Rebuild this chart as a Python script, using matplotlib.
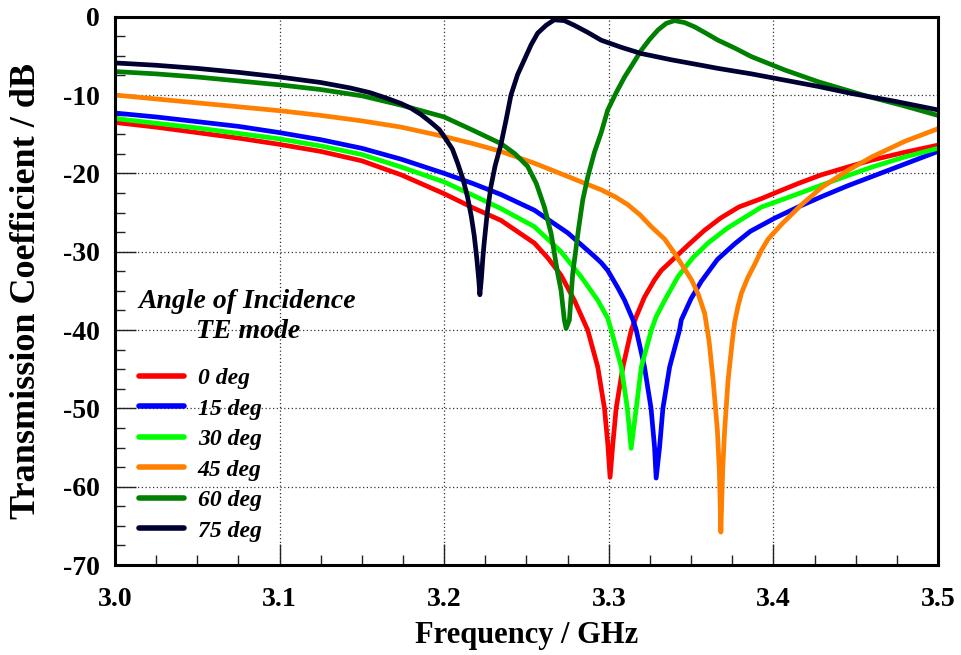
import matplotlib
matplotlib.use("Agg")
import matplotlib.pyplot as plt
from matplotlib.ticker import MultipleLocator, FormatStrFormatter

plt.rcParams['font.family'] = ['Liberation Serif', 'DejaVu Serif']
plt.rcParams['font.weight'] = 'bold'
plt.rcParams['axes.unicode_minus'] = False

# ---------------- data ----------------
f_0 = [3.000, 3.025, 3.050, 3.075, 3.100, 3.125, 3.150, 3.174, 3.200, 3.2175, 3.2345, 3.2548,
       3.263, 3.271, 3.2791, 3.2872, 3.2933, 3.2974, 3.2994, 3.3008, 3.3025, 3.3045, 3.3086,
       3.3137, 3.3167, 3.3217, 3.3278, 3.3319, 3.343, 3.348, 3.358, 3.368, 3.379, 3.393,
       3.401, 3.415, 3.429, 3.445, 3.460, 3.480, 3.500]
db_0 = [-13.5, -14.1, -14.8, -15.5, -16.3, -17.2, -18.4, -20.2, -22.6, -24.4, -26.0, -28.9,
        -30.8, -33.0, -36.2, -40.0, -44.7, -50.0, -54.5, -58.8, -54.5, -50.0, -44.7,
        -40.0, -38.3, -35.8, -33.6, -32.4, -30.2, -29.2, -27.3, -25.7, -24.3, -23.2,
        -22.5, -21.3, -20.2, -19.2, -18.3, -17.3, -16.4]

f_15 = [3.000, 3.025, 3.050, 3.075, 3.100, 3.125, 3.150, 3.174, 3.200, 3.2175, 3.2345, 3.2548,
        3.2751, 3.2913, 3.2954, 3.2994, 3.3055, 3.3096, 3.3147, 3.3167, 3.3217, 3.3257, 3.3278,
        3.3288, 3.3309, 3.3329, 3.337, 3.343, 3.3441, 3.350, 3.3562, 3.366, 3.3765, 3.386,
        3.401, 3.415, 3.429, 3.445, 3.460, 3.480, 3.500]
db_15 = [-12.3, -12.8, -13.4, -14.0, -14.8, -15.7, -16.8, -18.2, -20.0, -21.3, -22.7, -24.7,
         -27.6, -30.6, -31.4, -32.4, -34.6, -36.2, -38.7, -40.0, -44.7, -50.0, -54.9,
         -58.9, -54.9, -50.0, -44.7, -40.0, -38.7, -36.0, -33.8, -31.0, -29.0, -27.4,
         -25.7, -24.3, -23.0, -21.6, -20.4, -18.8, -17.2]

f_30 = [3.000, 3.025, 3.050, 3.075, 3.100, 3.125, 3.150, 3.174, 3.200, 3.2175, 3.2345, 3.2548,
        3.271, 3.2832, 3.2933, 3.2994, 3.3015, 3.3076, 3.3113, 3.3136, 3.3167, 3.3198, 3.3259,
        3.3288, 3.334, 3.342, 3.351, 3.3603, 3.372, 3.3928, 3.410, 3.4293, 3.445, 3.4598,
        3.480, 3.500]
db_30 = [-13.0, -13.6, -14.2, -14.9, -15.6, -16.5, -17.6, -19.2, -21.1, -22.8, -24.5, -26.8,
         -30.0, -33.2, -36.2, -38.5, -40.0, -44.7, -50.0, -55.1, -50.0, -44.7, -40.0,
         -38.3, -36.2, -33.2, -30.8, -28.9, -27.0, -24.3, -23.0, -21.5, -20.3, -19.2,
         -17.9, -16.8]

f_45 = [3.000, 3.025, 3.050, 3.075, 3.100, 3.125, 3.150, 3.174, 3.200, 3.2175, 3.2345, 3.2548,
        3.2751, 3.2954, 3.304, 3.3116, 3.319, 3.3258, 3.334, 3.340, 3.3503, 3.3545, 3.3583,
        3.361, 3.3634, 3.3660, 3.3672, 3.3681, 3.3692, 3.3704, 3.3725, 3.3750, 3.3765, 3.3785,
        3.3806, 3.3845, 3.3887, 3.3928, 3.3968, 3.405, 3.4171, 3.4293, 3.4455, 3.4598,
        3.480, 3.500]
db_45 = [-10.0, -10.5, -11.0, -11.5, -12.0, -12.6, -13.3, -14.1, -15.3, -16.2, -17.2, -18.7,
         -20.4, -22.1, -23.0, -24.0, -25.3, -26.8, -28.4, -30.2, -33.6, -35.5, -37.9,
         -41.5, -46.4, -52.8, -58.0, -65.8, -58.0, -52.8, -46.4, -41.5, -39.0, -37.0,
         -35.3, -33.3, -31.6, -29.8, -28.4, -26.5, -24.0, -21.8, -19.6, -17.9,
         -15.9, -14.3]

f_60 = [3.000, 3.025, 3.050, 3.075, 3.100, 3.125, 3.150, 3.174, 3.200, 3.2175, 3.2345, 3.243,
        3.2507, 3.256, 3.2609, 3.265, 3.269, 3.271, 3.273, 3.2741, 3.2761, 3.2781, 3.2817,
        3.2842, 3.2872, 3.2913, 3.2954, 3.2994, 3.3045, 3.3096, 3.3147, 3.3197, 3.3248,
        3.3299, 3.3349, 3.340, 3.3461, 3.3522, 3.359, 3.3664, 3.3765, 3.3867, 3.4069,
        3.4272, 3.4577, 3.478, 3.500]
db_60 = [-7.0, -7.3, -7.7, -8.2, -8.7, -9.3, -10.1, -11.3, -12.8, -14.5, -16.2, -17.5,
         -19.1, -21.3, -24.3, -27.7, -32.8, -34.9, -38.7, -39.8, -38.7, -32.8, -27.0,
         -23.4, -20.5, -17.3, -14.8, -11.9, -9.7, -7.7, -6.0, -4.3, -2.9,
         -1.7, -0.85, -0.5, -0.75, -1.3, -2.1, -3.0, -4.0, -5.1, -6.8,
         -8.3, -10.2, -11.3, -12.6]

f_75 = [3.000, 3.025, 3.050, 3.075, 3.100, 3.125, 3.143, 3.155, 3.165, 3.174, 3.180, 3.186,
        3.192, 3.197, 3.200, 3.205, 3.2082, 3.2115, 3.2142, 3.2165, 3.2183, 3.2198, 3.221,
        3.2217, 3.2226, 3.2235, 3.2243, 3.2262, 3.2284, 3.231, 3.2345, 3.2376, 3.2406,
        3.2446, 3.2487, 3.2528, 3.2568, 3.2619, 3.2669, 3.273, 3.2791, 3.2872, 3.2954,
        3.3075, 3.3197, 3.338, 3.3562, 3.3664, 3.3867, 3.4069, 3.4272, 3.4475, 3.4739, 3.500]
db_75 = [-5.9, -6.2, -6.6, -7.1, -7.7, -8.4, -9.1, -9.7, -10.4, -11.1, -11.7, -12.5,
         -13.5, -14.4, -15.3, -16.9, -18.7, -20.8, -23.0, -25.5, -28.0, -30.8, -33.5,
         -35.5, -33.5, -30.8, -28.9, -25.0, -21.7, -19.0, -16.3, -13.2, -10.0,
         -7.4, -5.5, -3.6, -2.1, -1.1, -0.4, -0.5, -1.1, -2.0, -3.0,
         -3.9, -4.7, -5.5, -6.2, -6.6, -7.3, -8.1, -8.9, -9.8, -10.8, -11.9]

labels = ['0 deg', '15 deg', '30 deg', '45 deg', '60 deg', '75 deg']
colors = ['#ff0000', '#0000ff', '#00ff00', '#ff8000', '#008000', '#000033']
series = [(f_0, db_0), (f_15, db_15), (f_30, db_30), (f_45, db_45), (f_60, db_60), (f_75, db_75)]

x_ticks = [3.0, 3.1, 3.2, 3.3, 3.4, 3.5]
y_ticks = [0, -10, -20, -30, -40, -50, -60, -70]

# ---------------- figure ----------------
fig = plt.figure(figsize=(9.62, 6.55), dpi=100)
ax = fig.add_axes([0.1195, 0.1374, 0.8555, 0.8371])

for (fx, fy), lab, col in zip(series, labels, colors):
    ax.plot(fx, fy, color=col, lw=3.4, label=lab, solid_capstyle='round', solid_joinstyle='round')

ax.set_xlim(3.0, 3.5)
ax.set_ylim(-70, 0)
ax.set_xticks(x_ticks)
ax.set_yticks(y_ticks)
ax.xaxis.set_major_formatter(FormatStrFormatter('%.1f'))
ax.xaxis.set_minor_locator(MultipleLocator(0.025))
ax.yaxis.set_minor_locator(MultipleLocator(2.5))

ax.tick_params(which='both', direction='in', top=False, right=False, colors='#222222',
               labelcolor='black', labelsize=20)
ax.tick_params(which='major', length=15, width=1.0)
ax.tick_params(which='minor', length=7.5, width=1.0)
ax.tick_params(axis='x', which='major', pad=16)
ax.tick_params(axis='y', which='major', pad=11)

ax.grid(True, which='major', color='#333333', linestyle=(0, (1, 2)), lw=0.9)
ax.set_axisbelow(True)

for sp in ax.spines.values():
    sp.set_linewidth(2.2)
    sp.set_color('black')

ax.set_xlabel('Frequency / GHz', fontsize=22, fontweight='bold', labelpad=6)
ax.set_ylabel('Transmission Coefficient / dB', fontsize=26, fontweight='bold', labelpad=14)

leg = ax.legend(title='Angle of Incidence\nTE mode', loc='upper left',
                bbox_to_anchor=(0.029, 0.503), frameon=False,
                prop={'size': 17, 'style': 'italic', 'weight': 'bold'},
                handlelength=1.9, handletextpad=0.6, labelspacing=0.38,
                borderaxespad=0.0, borderpad=0.0)
ttl = leg.get_title()
ttl.set_fontsize(20)
ttl.set_fontstyle('italic')
ttl.set_fontweight('bold')
ttl.set_multialignment('center')
ttl.set_linespacing(1.25)
leg._legend_box.align = 'left'
leg._legend_box.sep = 17
for h in leg.get_lines():
    h.set_linewidth(4)

fig.savefig('out.png', dpi=100)
